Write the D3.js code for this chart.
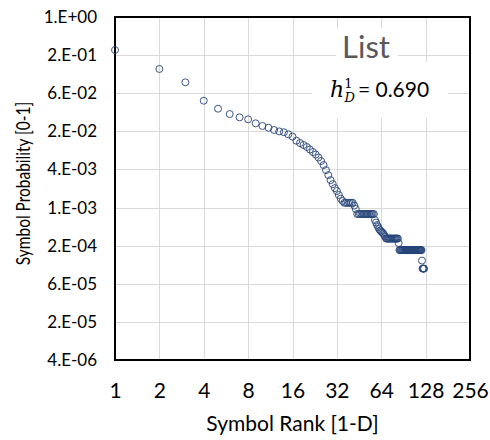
<!DOCTYPE html>
<html>
<head>
<meta charset="utf-8">
<script src="https://cdn.jsdelivr.net/npm/d3@7/dist/d3.min.js"></script>
<style>
  body { margin: 0; background: #fff; }
  svg text { font-family: Lato, "Open Sans", "Liberation Sans", sans-serif; }
</style>
</head>
<body>
<svg id="chart" width="490" height="440"></svg>
<script>
// Rank axis (base-2 log) and probability axis (base-4 log)
const xTickValues = [1, 2, 4, 8, 16, 32, 64, 128, 256];
const yTickValues = [1, 0.25, 0.0625, 0.015625, 0.00390625, 0.0009765625,
  0.000244140625, 0.00006103515625, 0.0000152587890625, 0.000003814697265625];
const yTickLabels = ["1.E+00", "2.E-01", "6.E-02", "2.E-02", "4.E-03",
  "1.E-03", "2.E-04", "6.E-05", "2.E-05", "4.E-06"];

// Symbol probabilities sorted by rank (rank = position + 1)
const probabilities = [
  0.301, 0.151, 0.0929, 0.0476, 0.0356, 0.0293, 0.0260, 0.0242, 0.0209, 0.0190,
  0.0178, 0.0164, 0.0156, 0.0151, 0.0140, 0.0129, 0.0111, 0.0102, 0.00951, 0.00884,
  0.00807, 0.00736, 0.00673, 0.00603, 0.00530, 0.00458, 0.00381, 0.00318, 0.00265, 0.00229,
  0.00198, 0.00178, 0.00154, 0.00135, 0.00124,
  0.00116, 0.00116, 0.00116, 0.00116, 0.00116, 0.00116,
  0.00105, 0.000925,
  0.000772, 0.000772, 0.000772, 0.000772, 0.000772, 0.000772, 0.000772,
  0.000772, 0.000772, 0.000772, 0.000772, 0.000772, 0.000772, 0.000772,
  0.000620, 0.000566, 0.000517, 0.000481, 0.000447, 0.000424, 0.000408, 0.000394,
  0.000380, 0.000359, 0.000340,
  0.000316, 0.000316, 0.000316, 0.000316, 0.000316, 0.000316, 0.000316, 0.000316,
  0.000316, 0.000316, 0.000316, 0.000316, 0.000316, 0.000316, 0.000316,
  0.000268,
  0.000208, 0.000208, 0.000208, 0.000208, 0.000208, 0.000208, 0.000208, 0.000208, 0.000208,
  0.000208, 0.000208, 0.000208, 0.000208, 0.000208, 0.000208, 0.000208, 0.000208, 0.000208,
  0.000208, 0.000208, 0.000208, 0.000208, 0.000208, 0.000208, 0.000208, 0.000208, 0.000208,
  0.000208, 0.000208, 0.000208, 0.000208, 0.000208, 0.000208, 0.000208, 0.000208, 0.000208,
  0.000142,
  0.000106, 0.000106, 0.000106, 0.000106
];
const points = probabilities.map((p, i) => ({ rank: i + 1, p }));

const title = "List";
const entropyValue = "0.690";

const svg = d3.select("#chart");
const plot = { left: 115, right: 470, top: 17, bottom: 360 };

const x = d3.scaleLog().base(2).domain([1, 256]).range([plot.left, plot.right]);
const y = d3.scaleLog().base(4).domain([yTickValues[yTickValues.length - 1], 1])
  .range([plot.bottom, plot.top]);

// Gridlines
const grid = svg.append("g").attr("stroke", "#d9d9d9").attr("stroke-width", 1);
grid.selectAll("line.v").data(xTickValues.slice(1, -1)).join("line")
  .attr("x1", d => Math.round(x(d)) + 0.5).attr("x2", d => Math.round(x(d)) + 0.5)
  .attr("y1", plot.top).attr("y2", plot.bottom);
grid.selectAll("line.h").data(yTickValues.slice(1, -1)).join("line")
  .attr("y1", d => Math.round(y(d)) + 0.5).attr("y2", d => Math.round(y(d)) + 0.5)
  .attr("x1", plot.left).attr("x2", plot.right);

// White text boxes inside the plot
svg.append("rect").attr("x", 336).attr("y", 28).attr("width", 62).attr("height", 34).attr("fill", "#fff");
svg.append("rect").attr("x", 312).attr("y", 62).attr("width", 136).attr("height", 56).attr("fill", "#fff");

// Plot frame
svg.append("rect")
  .attr("x", plot.left).attr("y", plot.top)
  .attr("width", plot.right - plot.left).attr("height", plot.bottom - plot.top)
  .attr("fill", "none").attr("stroke", "#000").attr("stroke-width", 2);

// Axes (labels only)
const xAxis = svg.append("g").attr("transform", `translate(0,${plot.bottom + 20})`)
  .call(d3.axisBottom(x).tickValues(xTickValues).tickFormat(d3.format("d")).tickSize(0));
xAxis.select(".domain").remove();
xAxis.selectAll("text").attr("font-size", 21).attr("fill", "#000")
  .style("font-family", "Lato, sans-serif");

const yAxis = svg.append("g").attr("transform", `translate(${plot.left - 15},0)`)
  .call(d3.axisLeft(y).tickValues(yTickValues)
    .tickFormat((d, i) => yTickLabels[i]).tickSize(0));
yAxis.select(".domain").remove();
yAxis.selectAll("text").attr("font-size", 17).attr("fill", "#000")
  .style("font-family", "Lato, sans-serif");

// Axis titles
svg.append("text").attr("x", (plot.left + plot.right) / 2).attr("y", 431)
  .attr("text-anchor", "middle").attr("font-size", 21).attr("fill", "#000")
  .text("Symbol Rank [1-D]");
svg.append("text")
  .attr("transform", `translate(30,${(plot.top + plot.bottom) / 2 - 5}) rotate(-90) scale(1,1.25)`)
  .attr("text-anchor", "middle").attr("font-size", 15.5).attr("fill", "#000")
  .text("Symbol Probability [0-1]");

// Markers
svg.append("g").selectAll("circle").data(points).join("circle")
  .attr("cx", d => x(d.rank)).attr("cy", d => y(d.p)).attr("r", 3.5)
  .attr("fill", "none").attr("stroke", "#264478").attr("stroke-width", 0.9);

// Annotations
svg.append("text").attr("x", 366).attr("y", 58).attr("text-anchor", "middle")
  .attr("font-size", 31).attr("fill", "#595959").text(title);

const eq = svg.append("text").attr("x", 330).attr("y", 97).attr("font-size", 21).attr("fill", "#000");
eq.append("tspan").attr("font-family", "'DejaVu Serif', 'Liberation Serif', serif")
  .attr("font-style", "italic").attr("font-size", 22).text("h");
eq.append("tspan").attr("font-family", "'DejaVu Serif', serif").attr("font-size", 13)
  .attr("dy", -9).text("1");
eq.append("tspan").attr("font-family", "'DejaVu Serif', serif").attr("font-style", "italic")
  .attr("font-size", 13).attr("dx", -8).attr("dy", 14).text("D");
eq.append("tspan").attr("dy", -5).attr("dx", 3).text("= " + entropyValue);
</script>
</body>
</html>
